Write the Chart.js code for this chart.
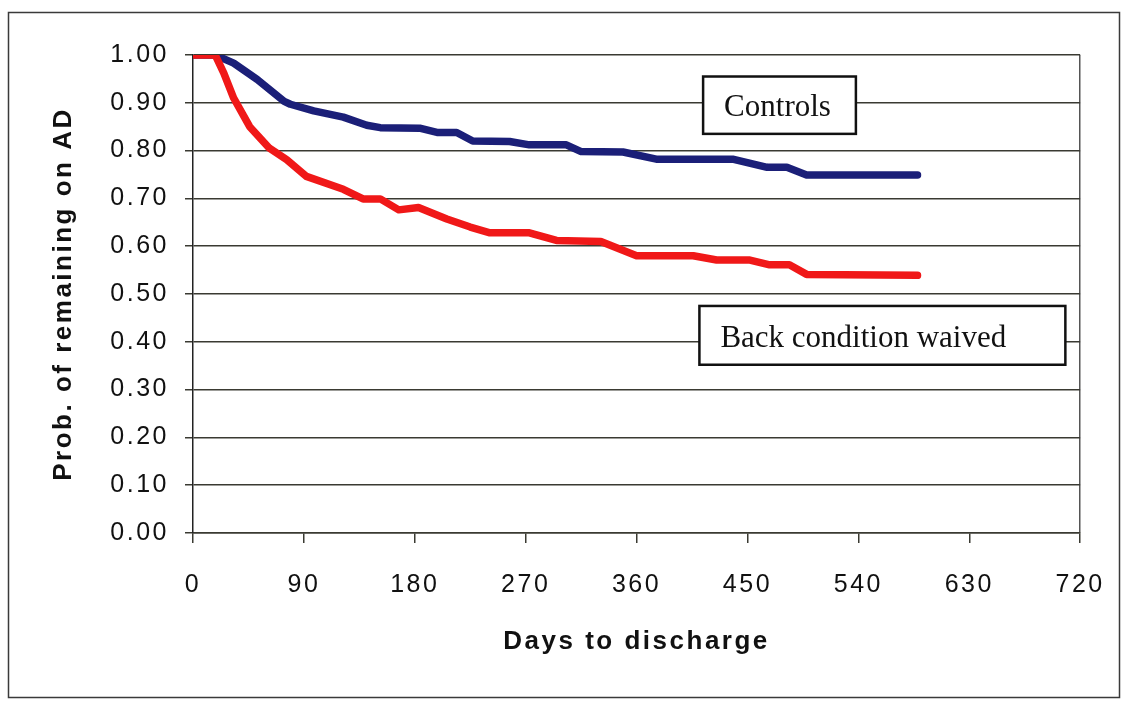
<!DOCTYPE html>
<html>
<head>
<meta charset="utf-8">
<script src="https://cdn.jsdelivr.net/npm/chart.js@4.4.0/dist/chart.umd.min.js"></script>
<style>
html, body { margin: 0; padding: 0; background: #fff; }
#wrap { width: 1128px; height: 704px; }
</style>
</head>
<body>
<div id="wrap"><canvas id="survChart" width="1128" height="704"></canvas></div>
<script>
// values (days, probability)
var seriesNames = ["Controls", "Back condition waived"];

var controlDays = [0, 18, 33, 52, 74, 79, 98, 122, 141, 152, 184, 198, 214, 227, 257, 273, 303, 315, 349, 376, 438, 466, 482, 498, 588];
var controlProb = [1.00, 1.00, 0.983, 0.949, 0.903, 0.897, 0.883, 0.870, 0.853, 0.848, 0.847, 0.838, 0.838, 0.820, 0.819, 0.812, 0.812, 0.798, 0.797, 0.782, 0.782, 0.765, 0.765, 0.749, 0.749];

var waivedDays = [0, 18, 25, 33, 46, 62, 76, 92, 122, 138, 152, 167, 183, 206, 225, 241, 273, 295, 331, 360, 406, 425, 452, 468, 484, 498, 588];
var waivedProb = [1.00, 1.00, 0.962, 0.910, 0.850, 0.805, 0.781, 0.746, 0.719, 0.699, 0.699, 0.676, 0.681, 0.657, 0.640, 0.628, 0.628, 0.612, 0.610, 0.580, 0.580, 0.571, 0.571, 0.561, 0.561, 0.541, 0.539];

var xTickValues = [0, 90, 180, 270, 360, 450, 540, 630, 720];
var yTickLabels = ["0.00", "0.10", "0.20", "0.30", "0.40", "0.50", "0.60", "0.70", "0.80", "0.90", "1.00"];

function toPoints(xs, ys) {
    return xs.map((d, i) => ({ x: d, y: ys[i] }));
}

// text boxes placed in axis units
var labelBoxes = [
    { text: seriesNames[0], x0: 414, x1: 538, y0: 0.835, y1: 0.955 },
    { text: seriesNames[1], x0: 411, x1: 708, y0: 0.352, y1: 0.475 }
];

const boxPlugin = {
    id: "boxPlugin",
    beforeDraw(chart) {
        chart.ctx.letterSpacing = "2.5px";
    },
    afterDraw(chart) {
        const ctx = chart.ctx;
        const xs = chart.scales.x;
        const ys = chart.scales.y;
        ctx.save();
        ctx.letterSpacing = "0px";

        // outer frame of the figure
        ctx.strokeStyle = "#3a3a3a";
        ctx.lineWidth = 1.5;
        ctx.strokeRect(8.5, 12.5, 1111, 685);

        labelBoxes.forEach(b => {
            const l = xs.getPixelForValue(b.x0);
            const r = xs.getPixelForValue(b.x1);
            const t = ys.getPixelForValue(b.y1);
            const bt = ys.getPixelForValue(b.y0);
            ctx.fillStyle = "#fff";
            ctx.fillRect(l, t, r - l, bt - t);
            ctx.lineWidth = 2.5;
            ctx.strokeStyle = "#111";
            ctx.strokeRect(l, t, r - l, bt - t);
            ctx.fillStyle = "#111";
            ctx.font = '31px "Liberation Serif", "Times New Roman", serif';
            ctx.textAlign = "left";
            ctx.textBaseline = "alphabetic";
            ctx.fillText(b.text, l + 21, bt - 17.5);
        });
        ctx.restore();
        chart.ctx.letterSpacing = "0px";
    }
};

const gridColor = "#3a3a32";
const tickFont = { family: '"Liberation Sans", Arial, sans-serif', size: 25 };
const titleFont = { family: '"Liberation Sans", Arial, sans-serif', size: 26, weight: "bold" };

const ctx = document.getElementById("survChart").getContext("2d");
new Chart(ctx, {
    type: "scatter",
    data: {
        datasets: [{
            label: seriesNames[1],
            data: toPoints(waivedDays, waivedProb),
            showLine: true,
            borderColor: "#f01818",
            backgroundColor: "#f01818",
            borderWidth: 7.5,
            pointRadius: 0,
            tension: 0,
            borderCapStyle: "round",
            borderJoinStyle: "round"
        }, {
            label: seriesNames[0],
            data: toPoints(controlDays, controlProb),
            showLine: true,
            borderColor: "#1b1f78",
            backgroundColor: "#1b1f78",
            borderWidth: 7.5,
            pointRadius: 0,
            tension: 0,
            borderCapStyle: "round",
            borderJoinStyle: "round"
        }]
    },
    options: {
        responsive: false,
        devicePixelRatio: 1,
        animation: false,
        layout: { padding: { left: 44, top: 55, right: 47, bottom: 30 } },
        plugins: {
            legend: { display: false },
            tooltip: { enabled: false }
        },
        scales: {
            x: {
                type: "linear",
                min: 0,
                max: 720,
                afterBuildTicks: scale => {
                    scale.ticks = xTickValues.map(v => ({ value: v }));
                },
                afterFit: scale => { scale.height = 141; },
                border: { display: true, color: gridColor, width: 1.5 },
                grid: {
                    color: c => (c.tick && c.tick.value === 720) ? "#555" : "rgba(0,0,0,0)",
                    tickColor: gridColor,
                    lineWidth: 1.5,
                    tickLength: 10
                },
                ticks: {
                    font: tickFont,
                    color: "#111",
                    padding: 27,
                    autoSkip: false,
                    maxRotation: 0
                },
                title: {
                    display: true,
                    text: "Days to discharge",
                    font: titleFont,
                    color: "#111",
                    padding: { top: 0, bottom: 17 }
                }
            },
            y: {
                min: 0,
                max: 1,
                afterBuildTicks: scale => {
                    scale.ticks = yTickLabels.map((s, i) => ({ value: i / 10 }));
                },
                afterFit: scale => { scale.width = 149; },
                border: { display: true, color: "#222", width: 1.5 },
                grid: {
                    color: gridColor,
                    lineWidth: 1.5,
                    tickLength: 8
                },
                ticks: {
                    font: tickFont,
                    color: "#111",
                    padding: 16,
                    callback: (v, i) => yTickLabels[i]
                },
                title: {
                    display: true,
                    text: "Prob. of remaining on AD",
                    font: titleFont,
                    color: "#111",
                    padding: { top: 4, bottom: 0 }
                }
            }
        }
    },
    plugins: [boxPlugin]
});
</script>
</body>
</html>
